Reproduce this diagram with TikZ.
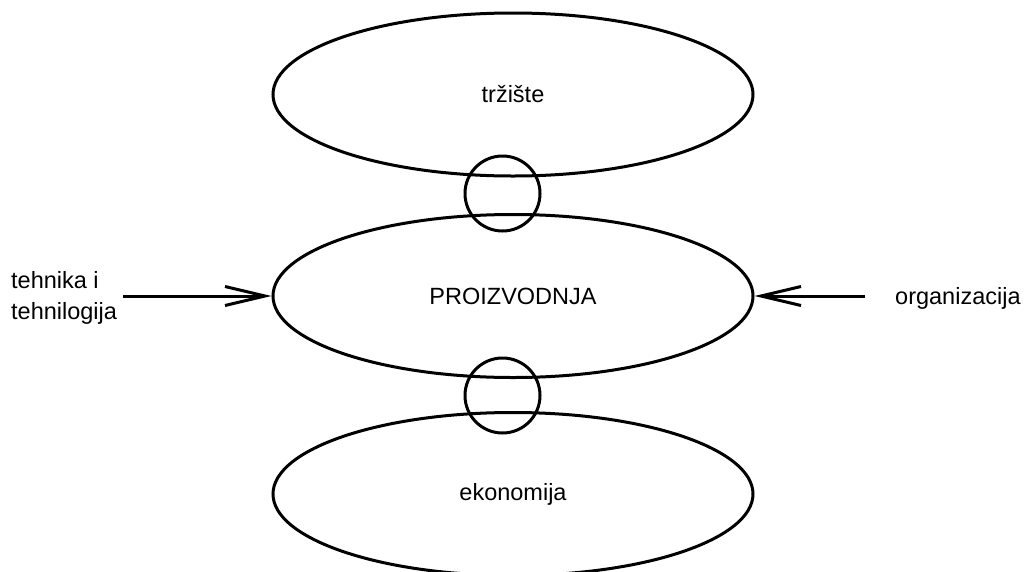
\documentclass[tikz,border=0pt]{standalone}
\usepackage{fontspec}
\setmainfont{Liberation Sans}
\usetikzlibrary{shapes.geometric,arrows.meta}
\begin{document}
\begin{tikzpicture}[x=1pt,y=-1pt,
  every node/.style={font=\fontsize{23.5}{31}\selectfont},
  oval/.style={draw,ellipse,line width=3pt,minimum width=480pt,minimum height=163pt,inner sep=0pt},
  ring/.style={draw,circle,line width=3pt,minimum size=75pt,inner sep=0pt},
  feed/.style={line width=3pt,-{Straight Barb[length=40pt,width=19pt]}},
  label/.style={inner sep=0pt,align=left}]
\useasboundingbox (0,0) rectangle (1026,571);
\node[oval] (trz) at (513,94.5) {tržište};
\node[oval] (pro) at (513,296) {PROIZVODNJA};
\node[oval] (eko) at (513,494) {ekonomija};
\node[ring] (c1) at (502.5,193.5) {};
\node[ring] (c2) at (502.5,395.5) {};
\coordinate (ls) at (123,296);
\coordinate (rs) at (865,296);
\draw[feed] (ls) -- (pro.west);
\draw[feed] (rs) -- (pro.east);
\node[label,anchor=west] (teh) at (11,298) {tehnika i\\tehnilogija};
\node[label,anchor=west] (org) at (895,298) {organizacija};
\end{tikzpicture}
\end{document}
